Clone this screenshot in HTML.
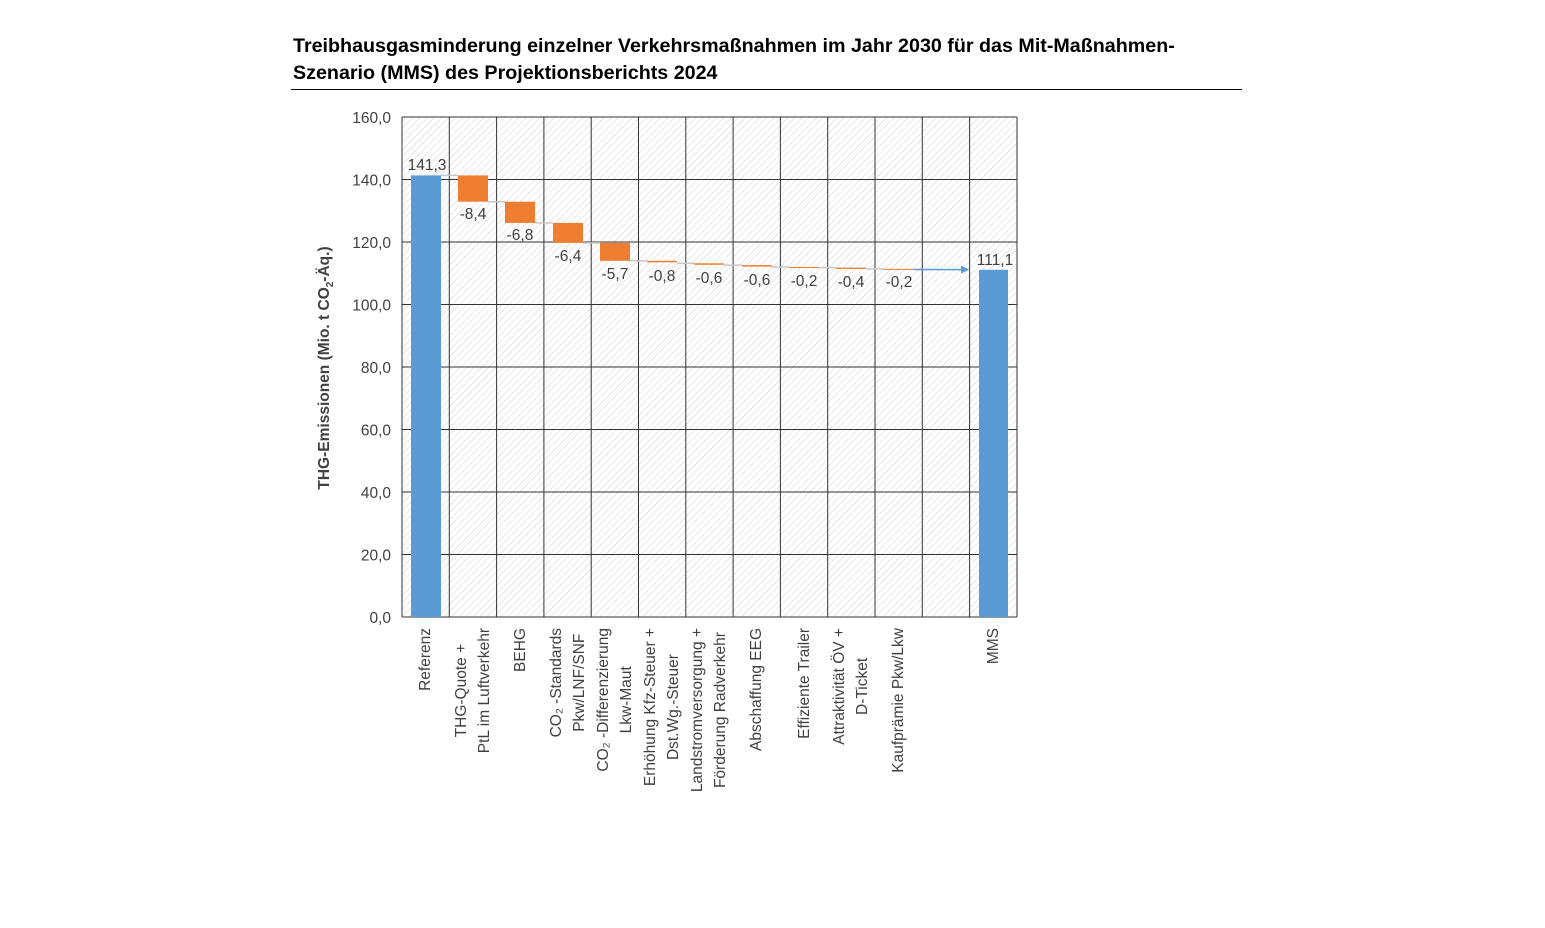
<!DOCTYPE html>
<html><head><meta charset="utf-8"><style>
body{margin:0;background:#fff;width:1545px;height:837px;overflow:hidden;position:relative;font-family:"Liberation Sans",sans-serif}
.t{position:absolute;left:293px;font-weight:bold;font-size:19.7px;color:#000;white-space:nowrap}
.xl{position:absolute;top:628px;width:300px;text-align:right;transform-origin:top right;transform:rotate(-90deg);font-size:15.5px;color:#404040;line-height:23px}
.xl span{display:inline-block;text-align:center;white-space:nowrap}
</style></head><body>
<div class="t" style="top:35px">Treibhausgasminderung einzelner Verkehrsmaßnahmen im Jahr 2030 für das Mit-Maßnahmen-</div>
<div class="t" style="top:62px">Szenario (MMS) des Projektionsberichts 2024</div>
<div style="position:absolute;left:291px;top:89px;width:951px;height:1px;background:#000"></div>
<svg width="1545" height="837" style="position:absolute;left:0;top:0">
<defs>
<pattern id="h" width="5" height="5" patternUnits="userSpaceOnUse" patternTransform="rotate(45)">
<rect width="5" height="5" fill="#fff"/><line x1="0" y1="0" x2="0" y2="5" stroke="#d8d8d8" stroke-width="1.2"/>
</pattern>
<marker id="ar" markerWidth="8" markerHeight="8" refX="7" refY="4" orient="auto" markerUnits="userSpaceOnUse"><path d="M0,0 L8,4 L0,8z" fill="#5b9bd5"/></marker>
</defs>
<rect x="402" y="117" width="615" height="500" fill="url(#h)"/>
<g stroke="#333" stroke-width="1">
<line x1="402" y1="117" x2="1017" y2="117"/><line x1="402" y1="179.5" x2="1017" y2="179.5"/><line x1="402" y1="242" x2="1017" y2="242"/><line x1="402" y1="304.5" x2="1017" y2="304.5"/><line x1="402" y1="367" x2="1017" y2="367"/><line x1="402" y1="429.5" x2="1017" y2="429.5"/><line x1="402" y1="492" x2="1017" y2="492"/><line x1="402" y1="554.5" x2="1017" y2="554.5"/><line x1="402" y1="617" x2="1017" y2="617"/>
<line x1="402" y1="117" x2="402" y2="617"/><line x1="449.3" y1="117" x2="449.3" y2="617"/><line x1="496.6" y1="117" x2="496.6" y2="617"/><line x1="543.9" y1="117" x2="543.9" y2="617"/><line x1="591.2" y1="117" x2="591.2" y2="617"/><line x1="638.5" y1="117" x2="638.5" y2="617"/><line x1="685.8" y1="117" x2="685.8" y2="617"/><line x1="733.1" y1="117" x2="733.1" y2="617"/><line x1="780.4" y1="117" x2="780.4" y2="617"/><line x1="827.7" y1="117" x2="827.7" y2="617"/><line x1="875" y1="117" x2="875" y2="617"/><line x1="922.3" y1="117" x2="922.3" y2="617"/><line x1="969.6" y1="117" x2="969.6" y2="617"/><line x1="1017" y1="117" x2="1017" y2="617"/>
</g>
<g stroke="#c8c8c8" stroke-width="1.5">
<line x1="441" y1="175.4" x2="458" y2="175.4"/><line x1="488" y1="201.7" x2="505" y2="201.7"/><line x1="535" y1="222.9" x2="553" y2="222.9"/><line x1="583" y1="242.9" x2="600" y2="242.9"/><line x1="630" y1="260.8" x2="647" y2="260.8"/><line x1="677" y1="263.3" x2="694" y2="263.3"/><line x1="724" y1="265.1" x2="742" y2="265.1"/><line x1="772" y1="267" x2="789" y2="267"/><line x1="819" y1="267.6" x2="836" y2="267.6"/><line x1="866" y1="268.9" x2="884" y2="268.9"/>
</g>
<line x1="914" y1="269.5" x2="968" y2="269.6" stroke="#5b9bd5" stroke-width="1.5" marker-end="url(#ar)"/>
<g fill="#5b9bd5"><rect x="411" y="175.4" width="30" height="441.6"/><rect x="979" y="269.8" width="29" height="347.2"/></g>
<g fill="#ed7d31">
<rect x="458" y="175.4" width="30" height="26.3"/><rect x="505" y="201.7" width="30" height="21.2"/><rect x="553" y="222.9" width="30" height="20"/><rect x="600" y="242.9" width="30" height="17.9"/>
<rect x="647" y="260.8" width="30" height="1.5"/><rect x="694" y="263.3" width="30" height="1.5"/><rect x="742" y="265.1" width="30" height="1.5"/><rect x="789" y="267" width="30" height="1"/><rect x="836" y="267.6" width="30" height="1.3"/><rect x="884" y="268.9" width="30" height="1"/>
</g>
<g font-family="Liberation Sans,sans-serif" font-size="15.5" fill="#404040" text-anchor="middle">
<text x="427" y="170">141,3</text><text x="995" y="265">111,1</text>
<text x="473" y="219">-8,4</text><text x="520" y="240">-6,8</text><text x="568" y="261">-6,4</text><text x="615" y="279">-5,7</text>
<text x="662" y="281">-0,8</text><text x="709" y="283">-0,6</text><text x="757" y="285">-0,6</text><text x="804" y="286">-0,2</text><text x="851" y="287">-0,4</text><text x="899" y="287">-0,2</text>
</g>
<g font-family="Liberation Sans,sans-serif" font-size="15.5" fill="#404040" text-anchor="end">
<text x="391" y="123">160,0</text><text x="391" y="185.5">140,0</text><text x="391" y="248">120,0</text><text x="391" y="310.5">100,0</text><text x="391" y="373">80,0</text><text x="391" y="435.5">60,0</text><text x="391" y="498">40,0</text><text x="391" y="560.5">20,0</text><text x="391" y="623">0,0</text>
</g>
<text transform="translate(329,368) rotate(-90)" text-anchor="middle" font-family="Liberation Sans,sans-serif" font-size="15.5" font-weight="bold" fill="#404040">THG-Emissionen (Mio. t CO<tspan font-size="10" dy="4">2</tspan><tspan dy="-4">-Äq.)</tspan></text>
</svg>
<div class="xl" style="left:114px"><span>Referenz</span></div>
<div class="xl" style="left:150px"><span>THG-Quote +<br>PtL im Luftverkehr</span></div>
<div class="xl" style="left:209px"><span>BEHG</span></div>
<div class="xl" style="left:245px"><span>CO₂ -Standards<br>Pkw/LNF/SNF</span></div>
<div class="xl" style="left:292px"><span>CO₂ -Differenzierung<br>Lkw-Maut</span></div>
<div class="xl" style="left:339px"><span>Erhöhung Kfz-Steuer +<br>Dst.Wg.-Steuer</span></div>
<div class="xl" style="left:386px"><span>Landstromversorgung +<br>Förderung Radverkehr</span></div>
<div class="xl" style="left:445px"><span>Abschaffung EEG</span></div>
<div class="xl" style="left:493px"><span>Effiziente Trailer</span></div>
<div class="xl" style="left:528px"><span>Attraktivität ÖV +<br>D-Ticket</span></div>
<div class="xl" style="left:587px"><span>Kaufprämie Pkw/Lkw</span></div>
<div class="xl" style="left:682px"><span>MMS</span></div>
</body></html>
